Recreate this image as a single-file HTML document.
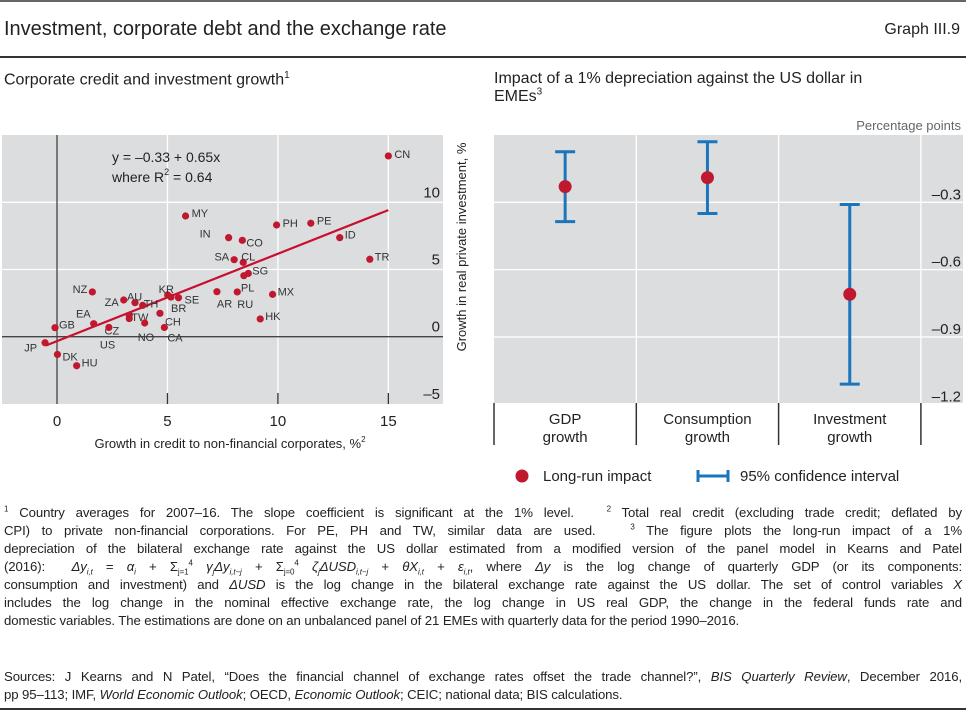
<!DOCTYPE html>
<html><head><meta charset="utf-8"><style>
body{margin:0;background:#fff;width:966px;height:713px;overflow:hidden;position:relative;font-family:"Liberation Sans",sans-serif;color:#222}
.a{position:absolute;white-space:nowrap}
.fn{position:absolute;left:4px;width:958px;font-size:13.2px;line-height:16px;text-align:justify;text-align-last:justify;white-space:nowrap;letter-spacing:-0.1px}
.fn.l{text-align-last:left}
.fn sub,.fn sup{font-size:8px;line-height:0}
svg text{font-family:"Liberation Sans",sans-serif}
</style></head><body>
<div class="a" style="left:0;top:0;width:966px;height:2px;background:#666"></div>
<div class="a" style="left:4px;top:18px;font-size:20px">Investment, corporate debt and the exchange rate</div>
<div class="a" style="right:6px;top:21px;font-size:16px">Graph III.9</div>
<div class="a" style="left:0;top:56px;width:966px;height:1.5px;background:#333"></div>
<div class="a" style="left:4px;top:70px;font-size:16px">Corporate credit and investment growth<sup style="font-size:10px">1</sup></div>
<div class="a" style="left:494px;top:70px;font-size:16px;line-height:18px">Impact of a 1% depreciation against the US dollar in<br>EMEs<sup style="font-size:10px;line-height:0">3</sup></div>

<svg id="chart" class="a" style="left:0;top:0" width="966" height="500"></svg>

<div class="fn" style="top:505px"><sup>1</sup> Country averages for 2007–16. The slope coefficient is significant at the 1% level. &nbsp; <sup>2</sup> Total real credit (excluding trade credit; deflated by</div>
<div class="fn" style="top:523px">CPI) to private non-financial corporations. For PE, PH and TW, similar data are used. &nbsp; <sup>3</sup> The figure plots the long-run impact of a 1%</div>
<div class="fn" style="top:541px">depreciation of the bilateral exchange rate against the US dollar estimated from a modified version of the panel model in Kearns and Patel</div>
<div class="fn" style="top:559px">(2016): &nbsp;<i>Δy<sub>i,t</sub></i> = <i>α<sub>i</sub></i> + Σ<sub>j=1</sub><sup>4</sup> <i>γ<sub>j</sub>Δy<sub>i,t−j</sub></i> + Σ<sub>j=0</sub><sup>4</sup> <i>ζ<sub>j</sub>ΔUSD<sub>i,t−j</sub></i> + <i>θX<sub>i,t</sub></i> + <i>ε<sub>i,t</sub></i>, where <i>Δy</i> is the log change of quarterly GDP (or its components:</div>
<div class="fn" style="top:577px">consumption and investment) and <i>ΔUSD</i> is the log change in the bilateral exchange rate against the US dollar. The set of control variables <i>X</i></div>
<div class="fn" style="top:595px">includes the log change in the nominal effective exchange rate, the log change in US real GDP, the change in the federal funds rate and</div>
<div class="fn l" style="top:613px">domestic variables. The estimations are done on an unbalanced panel of 21 EMEs with quarterly data for the period 1990–2016.</div>
<div class="fn" style="top:669px">Sources: J Kearns and N Patel, “Does the financial channel of exchange rates offset the trade channel?”, <i>BIS Quarterly Review</i>, December 2016,</div>
<div class="fn l" style="top:687px">pp 95–113; IMF, <i>World Economic Outlook</i>; OECD, <i>Economic Outlook</i>; CEIC; national data; BIS calculations.</div>
<div class="a" style="left:0;top:708px;width:966px;height:1.5px;background:#333"></div>

<script>
const countries=["CN","MY","PH","PE","IN","CO","ID","TR","SA","CL","SG","PL","NZ","ZA","AU","TH","KR","BR","SE","AR","RU","MX","HK","CH","TW","CZ","NO","CA","US","EA","GB","JP","DK","HU"];
const creditGrowth=[15.0,5.82,9.94,11.49,7.77,8.39,12.8,14.16,8.02,8.43,8.66,8.46,1.6,3.02,3.53,3.88,5.01,5.16,5.5,7.24,8.16,9.76,9.2,4.66,3.27,3.27,3.97,4.86,2.35,1.66,-0.09,-0.54,0.02,0.89];
const investGrowth=[13.45,8.98,8.31,8.44,7.37,7.17,7.37,5.76,5.73,5.53,4.71,4.54,3.33,2.73,2.53,2.33,3.1,2.95,2.9,3.35,3.33,3.15,1.32,1.74,1.6,1.35,1.02,0.69,0.69,0.97,0.67,-0.45,-1.32,-2.16];
const labelOffsets={CN:[6,-2,"s"],MY:[6,-3,"s"],PH:[6,-2,"s"],PE:[6,-3,"s"],IN:[-18,-4,"e"],CO:[4,2,"s"],ID:[5,-3,"s"],TR:[5,-3,"s"],SA:[-5,-3,"e"],CL:[-2,-6,"s"],SG:[4,-3,"s"],PL:[-3,12,"s"],NZ:[-5,-3,"e"],ZA:[-5,2,"e"],AU:[-8,-6,"s"],TH:[1,-2,"s"],KR:[-9,-6,"s"],BR:[0,11,"s"],SE:[6,2,"s"],AR:[0,12,"s"],RU:[0,12,"s"],MX:[5,-3,"s"],HK:[5,-3,"s"],CH:[5,8,"s"],TW:[2,2,"s"],CZ:[-10,12,"e"],NO:[-7,14,"s"],CA:[3,10,"s"],US:[-9,17,"s"],EA:[-3,-10,"e"],GB:[4,-3,"s"],JP:[-8,5,"e"],DK:[5,2,"s"],HU:[5,-3,"s"]};
const xTicks=[0,5,10,15];
const yTicks=[-5,0,5,10];
const fitIntercept=-0.33, fitSlope=0.65, fitRange=[-0.5,15];

const categories=["GDP growth","Consumption growth","Investment growth"];
const impact=[-0.23,-0.19,-0.71];
const ciUpper=[-0.075,-0.03,-0.31];
const ciLower=[-0.386,-0.35,-1.11];
const rTicks=[-0.3,-0.6,-0.9,-1.2];

const NS="http://www.w3.org/2000/svg";
const svg=document.getElementById("chart");
function el(t,a,txt,p){const e=document.createElementNS(NS,t);for(const k in a)e.setAttribute(k,a[k]);if(txt!=null)e.textContent=txt;(p||svg).appendChild(e);return e;}

// left chart
const L={x0:2,x1:443,y0:135,y1:404};
const sx=v=>57+v*22.09, sy=v=>336.7-v*13.44;
let e=el("rect",{x:L.x0,y:L.y0,width:L.x1-L.x0,height:L.y1-L.y0,fill:"#dcdddf"});

yTicks.forEach(t=>{if(t!==-5&&t!==0){const g=el("line",{x1:L.x0,x2:L.x1,y1:sy(t),y2:sy(t),stroke:"#fff","stroke-width":1.3});}
 const tx=el("text",{x:440,y:sy(t)-5,"text-anchor":"end","font-size":15,fill:"#222"},t<0?"\u2013"+(-t):t);
 });
xTicks.forEach(t=>{if(t!==0){const g=el("line",{x1:sx(t),x2:sx(t),y1:L.y0,y2:L.y1,stroke:"#fff","stroke-width":1.3});
 const tk=el("line",{x1:sx(t),x2:sx(t),y1:393,y2:404,stroke:"#333","stroke-width":1.3});}
 const tx=el("text",{x:sx(t),y:426,"text-anchor":"middle","font-size":15,fill:"#222"},t);
 });
e=el("line",{x1:L.x0,x2:L.x1,y1:sy(0),y2:sy(0),stroke:"#444","stroke-width":1.3});
e=el("line",{x1:sx(0),x2:sx(0),y1:L.y0,y2:L.y1,stroke:"#444","stroke-width":1.3});
e=el("line",{x1:sx(fitRange[0]),y1:sy(fitIntercept+fitSlope*fitRange[0]),x2:sx(fitRange[1]),y2:sy(fitIntercept+fitSlope*fitRange[1]),stroke:"#c8102e","stroke-width":2.2});

countries.forEach((c,i)=>{const x=sx(creditGrowth[i]),y=sy(investGrowth[i]);
 const d=el("circle",{cx:x,cy:y,r:3.6,fill:"#c0182f"});
 const o=labelOffsets[c];const t=el("text",{x:x+o[0],y:y+o[1]+4,"font-size":11,fill:"#333","text-anchor":o[2]==="e"?"end":"start"},c);
 });
e=el("text",{x:112,y:162,"font-size":14,fill:"#222"},"y = \u20130.33 + 0.65x");
e=el("text",{x:112,y:182,"font-size":14,fill:"#222"});
el("tspan",{},"where R",e);el("tspan",{"font-size":9,dy:-7},"2",e);el("tspan",{dy:7}," = 0.64",e);
e=el("text",{x:230,y:448,"text-anchor":"middle","font-size":13,fill:"#222"});
el("tspan",{},"Growth in credit to non-financial corporates, %",e);el("tspan",{"font-size":8,dy:-6},"2",e);
e=el("text",{x:0,y:0,transform:"translate(466,247) rotate(-90)","text-anchor":"middle","font-size":13,fill:"#222"},"Growth in real private investment, %");


// right chart
const R={x0:494,x1:963,y0:135,y1:403};
const ry=v=>202.3+(-0.3-v)*224.4;
const bandW=142.3, cx=i=>R.x0+bandW*(i+0.5);
e=el("rect",{x:R.x0,y:R.y0,width:R.x1-R.x0,height:R.y1-R.y0,fill:"#dcdddf"});
e=el("text",{x:961,y:130,"text-anchor":"end","font-size":13,fill:"#666"},"Percentage points");
rTicks.forEach(t=>{if(t!==-1.2){const g=el("line",{x1:R.x0,x2:R.x1,y1:ry(t),y2:ry(t),stroke:"#fff","stroke-width":1.3});}
 const tx=el("text",{x:961,y:ry(t)-3,"text-anchor":"end","font-size":15,fill:"#222"},"\u2013"+(-t).toFixed(1));});
for(let i=0;i<=3;i++){const x=R.x0+bandW*i;
 if(i>0){const g=el("line",{x1:x,x2:x,y1:R.y0,y2:R.y1,stroke:"#fff","stroke-width":1.3});}
 const s=el("line",{x1:x,x2:x,y1:403,y2:445,stroke:"#333","stroke-width":1.5});}
categories.forEach((c,i)=>{const w=c.split(" ");
 const t=el("text",{x:cx(i),y:424,"text-anchor":"middle","font-size":15,fill:"#222"},w[0]);
 el("text",{x:cx(i),y:442,"text-anchor":"middle","font-size":15,fill:"#222"},w[1]);
 const v=el("line",{x1:cx(i),x2:cx(i),y1:ry(ciUpper[i]),y2:ry(ciLower[i]),stroke:"#1a75bc","stroke-width":3});
 [ciUpper[i],ciLower[i]].forEach(b=>{const h=el("line",{x1:cx(i)-10,x2:cx(i)+10,y1:ry(b),y2:ry(b),stroke:"#1a75bc","stroke-width":3});});
 const d=el("circle",{cx:cx(i),cy:ry(impact[i]),r:6.5,fill:"#c0182f"});});
e=el("circle",{cx:522,cy:476,r:6.5,fill:"#c0182f"});
e=el("text",{x:543,y:481,"font-size":15,fill:"#222"},"Long-run impact");
e=el("path",{d:"M698 470V482M698 476H728M728 470V482",stroke:"#1a75bc","stroke-width":3,fill:"none"});
e=el("text",{x:740,y:481,"font-size":15,fill:"#222"},"95% confidence interval");
</script>
</body></html>
